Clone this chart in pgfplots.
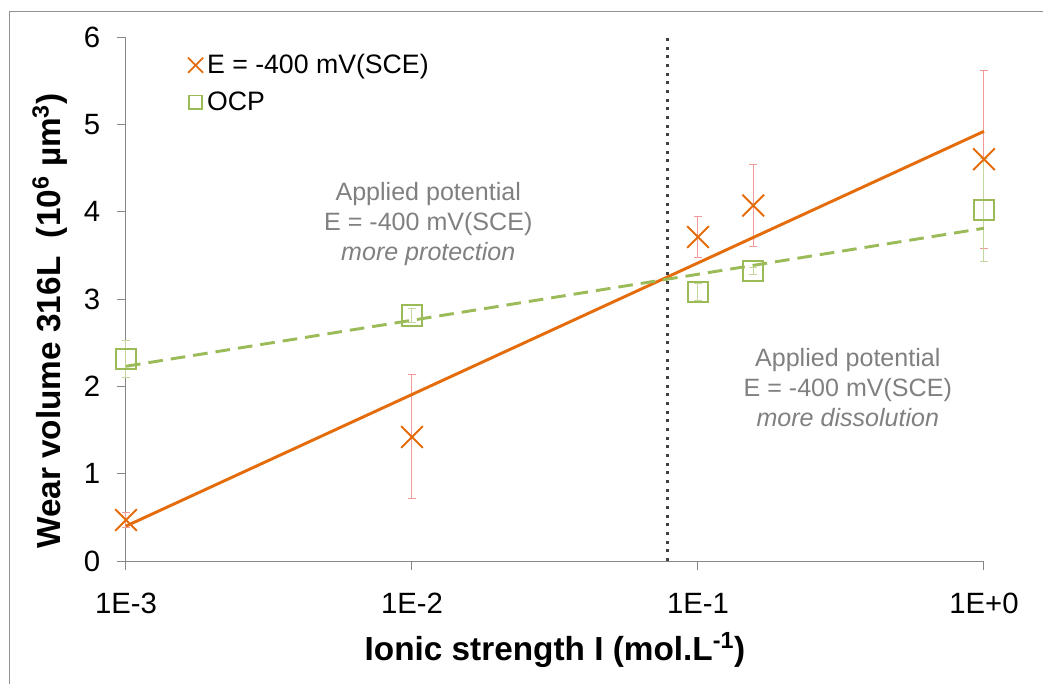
\documentclass[border=0pt]{standalone}
\usepackage{pgfplots}
\pgfplotsset{compat=1.18}
\usepackage{fontspec}
\setmainfont{Liberation Sans}
\definecolor{orangeC}{HTML}{E46C0A}
\definecolor{greenC}{HTML}{9BBB59}
\definecolor{errO}{HTML}{F29A9A}
\definecolor{errG}{HTML}{C3D69B}
\definecolor{axisG}{HTML}{868686}
\definecolor{annot}{HTML}{808080}
\definecolor{dotC}{HTML}{404040}
\begin{document}
\begin{tikzpicture}
\useasboundingbox (-94.5pt,-91.5pt) rectangle (687.75pt,420.75pt);
\draw[color=axisG!90, line width=0.75pt] (-87pt,-120pt) rectangle (700pt,411.75pt);
\begin{axis}[
  at={(0,0)}, anchor=south west,
  scale only axis, width=643.5pt, height=393pt,
  xmode=log, xmin=1e-3, xmax=1, ymin=0, ymax=6,
  clip=false,
  axis lines*=left,
  axis line style={axisG, line width=0.75pt},
  tick style={axisG, line width=0.75pt},
  tick align=outside, major tick length=6.75pt,
  xminorticks=false,
  xtick={0.001,0.01,0.1,1}, xticklabels={1E-3,1E-2,1E-1,1E+0},
  ytick={0,1,2,3,4,5,6},
  /pgf/number format/assume math mode=true,
  ticklabel style={font=\fontsize{22}{26}\selectfont},
  yticklabel style={xshift=-9pt},
  xticklabel style={yshift=-14pt},
  xlabel={\textbf{Ionic strength I (mol.L\textsuperscript{-1})}},
  ylabel={\textbf{Wear volume 316L\ \ (10\textsuperscript{6} µm\textsuperscript{3})}},
  label style={font=\fontsize{25}{30}\selectfont},
  xlabel style={at={(axis description cs:0.5,-0.17)}, anchor=center},
  ylabel style={at={(axis description cs:-0.0886,0.458)}, anchor=center},
  legend style={draw=none, fill=none, at={(axis description cs:0.072,0.967)}, anchor=north west,
    font=\fontsize{20}{24}\selectfont, row sep=12pt, inner sep=0pt,
    nodes={inner xsep=3pt, inner ysep=0pt}},
  legend cell align=left,
]
\addlegendimage{only marks, mark=x, mark size=8pt, orangeC, line width=1.3pt}
\addlegendentry{E = -400 mV(SCE)}
\addlegendimage{only marks, mark=square, mark size=5pt, greenC, line width=1.3pt}
\addlegendentry{OCP}

% vertical dotted separator
\addplot[dotC, line width=2.6pt, dash pattern=on 2.2pt off 4.3pt, forget plot]
  coordinates {(0.0784,0) (0.0784,6)};

% E = -400 mV(SCE)
\addplot[only marks, mark=x, mark size=11.5pt, orangeC, line width=1.5pt, forget plot,
  error bars/.cd, y dir=both, y explicit,
  error bar style={errO, line width=0.75pt},
  error mark options={rotate=90, mark size=3pt, errO, line width=0.75pt}]
  coordinates {(0.001,0.47) +- (0,0.09) (0.01,1.42) +- (0,0.71) (0.1,3.71) +- (0,0.23)
               (0.156,4.07) +- (0,0.47) (1,4.60) +- (0,1.02)};

% OCP
\addplot[only marks, mark=square, mark size=7.6pt, greenC, line width=1.5pt, forget plot,
  error bars/.cd, y dir=both, y explicit,
  error bar style={errG, line width=0.75pt},
  error mark options={rotate=90, mark size=3pt, errG, line width=0.75pt}]
  coordinates {(0.001,2.31) +- (0,0.21) (0.01,2.81) +- (0,0.08) (0.1,3.08) +- (0,0.1)
               (0.156,3.32) +- (0,0.035) (1,4.02) +- (0,0.59)};

% trend lines
\addplot[orangeC, line width=2.2pt, forget plot] coordinates {(0.001,0.40) (1,4.92)};
\addplot[greenC, line width=2.2pt, dash pattern=on 11pt off 6pt, forget plot]
  coordinates {(0.001,2.23) (1,3.81)};

\node[annot, align=center, font=\fontsize{18.8}{22.5}\selectfont] at (axis cs:0.0114,3.86)
  {Applied potential\\E = -400 mV(SCE)\\\textit{more protection}};
\node[annot, align=center, font=\fontsize{18.8}{22.5}\selectfont] at (axis cs:0.334,1.99)
  {Applied potential\\E = -400 mV(SCE)\\\textit{more dissolution}};
\end{axis}
\end{tikzpicture}
\end{document}
